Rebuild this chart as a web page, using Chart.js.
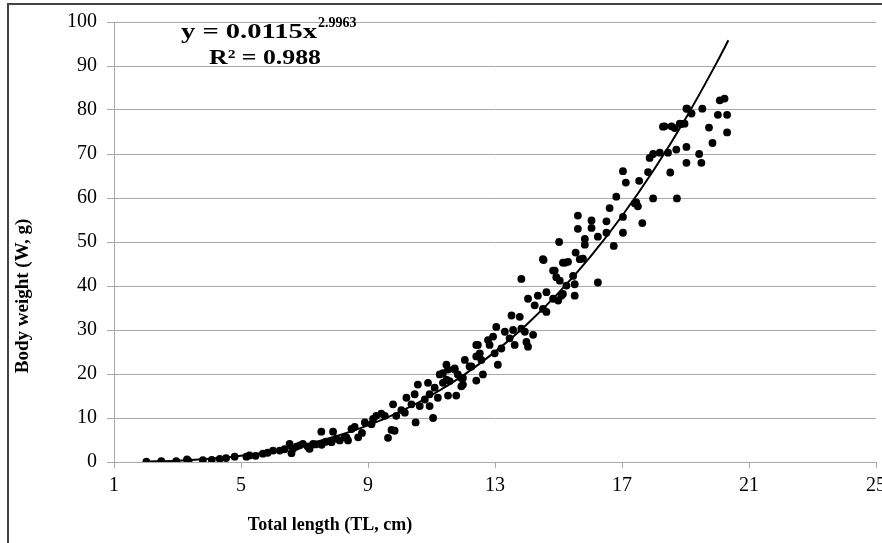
<!DOCTYPE html>
<html>
<head>
<meta charset="utf-8">
<script src="https://cdn.jsdelivr.net/npm/chart.js@4"></script>
<style>
  html, body { margin: 0; padding: 0; background: #fff; overflow: hidden; }
  #wrap { position: relative; width: 900px; height: 543px; }
</style>
</head>
<body>
<div id="wrap"><canvas id="lwChart"></canvas></div>
<script>
// Total length (cm) and body weight (g) of each fish
const lengths = [
  2.02, 2.49, 2.96, 3.30, 3.35, 3.80, 4.08, 4.33, 4.53, 4.80, 5.17, 5.27, 5.46, 5.69, 5.84,
  6.01, 6.22, 6.37, 6.53, 6.59, 6.64, 6.75, 6.85, 6.95, 7.10, 7.16, 7.27, 7.35, 7.53, 7.54,
  7.67, 7.85, 7.90, 8.00, 8.11, 8.27, 8.32, 8.37, 8.48, 8.58, 8.69, 8.81,
  8.90, 9.11, 9.16, 9.26, 9.42, 9.53, 9.63, 9.74, 9.84, 9.79, 9.89, 10.05, 10.16, 10.21,
  10.37, 10.47, 10.50, 10.57, 10.63, 10.79, 10.89, 10.94, 10.94, 11.05, 11.10, 11.20, 11.26,
  11.36, 11.47, 11.52, 11.57, 11.73, 11.78, 11.94, 11.99, 12.05, 12.20, 12.41, 12.41, 12.41,
  11.36, 11.52, 11.47, 11.73, 11.83, 11.99, 11.94, 12.26, 12.46, 12.52, 12.57, 12.62, 12.78,
  12.83, 12.94, 12.99, 13.04, 13.09, 13.20, 13.31, 13.46, 13.52, 13.57, 13.62, 13.78, 13.83,
  13.94, 13.99, 14.04, 14.04, 14.20, 14.25, 14.35, 14.51, 14.62, 14.62, 13.83, 14.51, 14.88,
  14.93, 15.04, 15.14, 14.83, 14.99, 15.14, 15.25,
  17.87, 17.03, 17.12, 17.54, 17.82, 16.82, 16.61, 17.45, 17.50, 17.64, 17.03, 16.51, 17.03,
  16.74, 16.51, 16.24, 16.04, 16.04, 15.61, 15.61, 15.83, 15.83, 15.02, 15.54, 15.67, 15.77,
  15.20, 15.30, 14.53, 14.83, 15.46, 15.51, 15.51, 16.24, 15.09,
  20.08, 20.23, 19.03, 19.19, 19.53, 20.02, 20.31, 18.34, 18.56, 18.66, 18.87, 19.74, 20.31,
  19.85, 17.98, 18.19, 18.45, 18.71, 19.03, 19.43, 19.03, 19.50, 18.52, 17.98, 18.73, 17.40,
  18.29, 18.82, 18.97, 19.05
];
const weights = [
  0.1, 0.2, 0.2, 0.6, 0.2, 0.4, 0.5, 0.7, 0.9, 1.2, 1.2, 1.5, 1.4, 1.9, 2.1,
  2.6, 2.6, 2.9, 4.1, 2.0, 3.0, 3.5, 3.8, 4.1, 3.5, 3.0, 4.1, 4.0, 6.9, 3.9,
  4.6, 4.5, 6.9, 5.3, 4.9, 5.6, 5.6, 4.9, 7.5, 8.0, 5.6, 6.6,
  9.0, 8.6, 9.8, 10.5, 11.0, 10.5, 5.5, 7.3, 7.1, 13.1, 10.5, 11.8, 11.2, 14.6,
  13.1, 15.4, 9.0, 17.6, 12.7, 14.2, 18.0, 15.4, 12.7, 10.0, 16.9, 14.6, 19.9,
  18.0, 22.1, 15.1, 18.4, 21.0, 15.1, 19.1, 17.6, 23.2, 21.7, 24.0, 26.6, 18.5,
  20.2, 21.0, 18.7, 21.3, 19.9, 19.1, 17.2, 21.7, 26.6, 24.7, 23.2, 19.9, 27.7,
  26.6, 28.5, 24.7, 30.7, 22.1, 25.8, 29.6, 28.1, 33.3, 30.0, 26.6, 33.0, 30.3,
  29.6, 27.3, 26.2, 37.1, 28.9, 35.6, 37.8, 34.8, 38.6, 34.1, 41.6, 46.1, 43.5,
  42.0, 41.2, 45.3, 37.1, 36.7, 38.2, 40.1,
  69.1, 66.1, 63.5, 63.9, 65.9, 60.3, 57.7, 59.0, 58.1, 54.3, 55.7, 54.7, 52.1,
  49.1, 52.1, 51.2, 54.9, 53.2, 56.0, 53.0, 50.7, 49.4, 50.0, 47.6, 46.1, 46.2,
  45.3, 45.5, 45.9, 43.5, 42.3, 40.4, 37.8, 40.8, 37.8,
  82.2, 82.6, 80.3, 79.2, 80.3, 78.9, 78.9, 76.3, 76.3, 75.9, 76.8, 76.0, 74.9,
  72.5, 70.0, 70.3, 70.3, 71.0, 71.6, 70.0, 68.0, 68.0, 65.8, 59.9, 59.9, 58.8,
  76.2, 76.9, 76.9, 80.3
];

// Power trend line
const trendLength = [2, 3, 4, 5, 6, 7, 8, 9, 10, 11, 12, 13, 14, 15, 16, 17, 18, 19, 20, 20.35];
const trendWeight = [0.09, 0.31, 0.73, 1.43, 2.47, 3.92, 5.84, 8.32, 11.4, 15.17, 19.69, 25.03,
  31.25, 38.43, 46.62, 55.91, 66.35, 78.02, 90.99, 95.84];

// Axis ticks
const xTicks = [1, 5, 9, 13, 17, 21, 25];
const yTicks = [0, 10, 20, 30, 40, 50, 60, 70, 80, 90, 100];

const serif = '"Liberation Serif", "Times New Roman", serif';
const gridGrey = '#a8a8a8';

const scatterData = lengths.map((x, i) => ({ x: x, y: weights[i] }));
const trendData = trendLength.map((x, i) => ({ x: x, y: trendWeight[i] }));

// draw text stretched to a given width (the original labels are wide)
function wideText(ctx, text, x, y, width) {
  const w = ctx.measureText(text).width;
  ctx.save();
  ctx.translate(x, y);
  ctx.scale(width / w, 1);
  ctx.fillText(text, 0, 0);
  ctx.restore();
}

// Frame, equation and axis titles
const labelsPlugin = {
  id: 'labels',
  afterDraw(chart) {
    const ctx = chart.ctx;
    ctx.save();
    // outer frame of the original figure
    ctx.strokeStyle = '#444';
    ctx.lineWidth = 2;
    ctx.beginPath();
    ctx.moveTo(8, 543);
    ctx.lineTo(8, 4);
    ctx.lineTo(900, 4);
    ctx.stroke();

    ctx.fillStyle = '#000';
    ctx.textBaseline = 'alphabetic';
    ctx.textAlign = 'left';
    ctx.font = 'bold 22px ' + serif;
    wideText(ctx, 'y = 0.0115x', 181, 38, 136);
    ctx.font = 'bold 14px ' + serif;
    ctx.fillText('2.9963', 318, 27);
    ctx.font = 'bold 22px ' + serif;
    wideText(ctx, 'R² = 0.988', 209, 64, 112);

    // axis titles
    ctx.textAlign = 'center';
    ctx.textBaseline = 'middle';
    ctx.font = 'bold 18px ' + serif;
    ctx.fillText('Total length (TL, cm)', 330, 525);
    ctx.font = 'bold 19px ' + serif;
    ctx.translate(23, 296);
    ctx.rotate(-Math.PI / 2);
    ctx.fillText('Body weight (W, g)', 0, 0);
    ctx.restore();
  }
};

const ctx = document.getElementById('lwChart').getContext('2d');
const lwChart = new Chart(ctx, {
  type: 'scatter',
  data: {
    datasets: [
      {
        type: 'line',
        label: 'Power trend',
        data: trendData,
        borderColor: '#000',
        borderWidth: 2,
        pointRadius: 0,
        fill: false,
        cubicInterpolationMode: 'monotone',
        order: 0
      },
      {
        label: 'Fish',
        data: scatterData,
        backgroundColor: '#000',
        borderColor: '#000',
        borderWidth: 0,
        pointRadius: 3.9,
        order: 1
      }
    ]
  },
  options: {
    responsive: true,
    maintainAspectRatio: false,
    animation: false,
    layout: { padding: { top: 16, right: 24, left: 0, bottom: 0 } },
    plugins: {
      legend: { display: false },
      tooltip: { enabled: false }
    },
    scales: {
      x: {
        type: 'linear',
        min: 1,
        max: 25,
        afterBuildTicks: s => { s.ticks = xTicks.map(v => ({ value: v })); },
        afterFit: s => { s.height = 81; },
        ticks: {
          color: '#000',
          padding: 6,
          font: { family: serif, size: 20 }
        },
        grid: { drawOnChartArea: false, drawTicks: true, tickLength: 6, color: gridGrey },
        border: { display: true, color: gridGrey }
      },
      y: {
        type: 'linear',
        min: 0,
        max: 100,
        afterBuildTicks: s => { s.ticks = yTicks.map(v => ({ value: v })); },
        afterFit: s => { s.width = 114; },
        ticks: {
          color: '#000',
          padding: 10,
          font: { family: serif, size: 20 }
        },
        grid: { color: gridGrey, tickLength: 7, drawTicks: true },
        border: { display: true, color: gridGrey }
      }
    }
  },
  plugins: [labelsPlugin]
});
</script>
</body>
</html>
